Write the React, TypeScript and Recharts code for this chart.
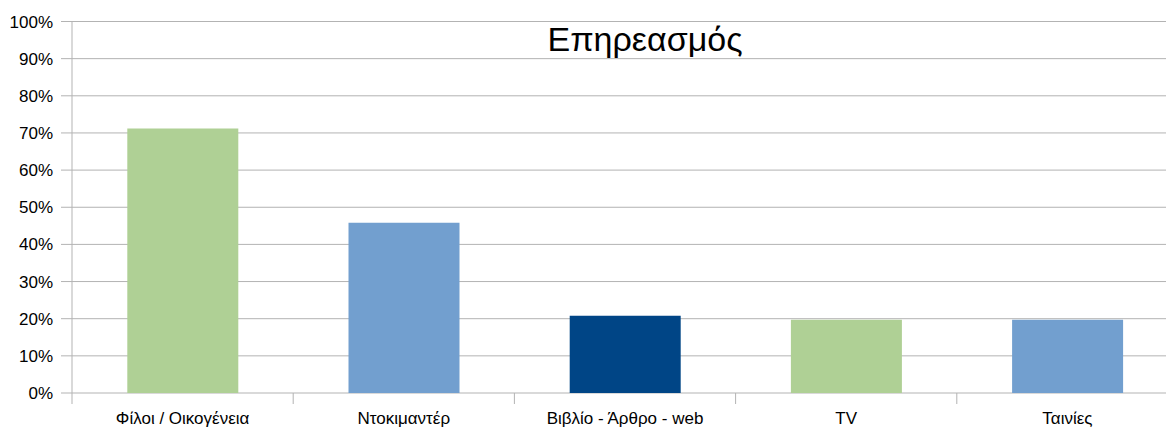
import { BarChart, Bar, XAxis, YAxis, CartesianGrid, Cell } from "recharts";

const categories = ["Φίλοι / Οικογένεια", "Ντοκιμαντέρ", "Βιβλίο - Άρθρο - web", "TV", "Ταινίες"];
const shares = [0.712, 0.458, 0.208, 0.197, 0.197];
const barColors = ["#afd095", "#729fcf", "#004586", "#afd095", "#729fcf"];
const yTicks = [0, 0.1, 0.2, 0.3, 0.4, 0.5, 0.6, 0.7, 0.8, 0.9, 1];

const data = categories.map((name, i) => ({ name, value: shares[i] }));

const GRID = "#b3b3b3";
const FONT = "'Liberation Sans', Arial, sans-serif";

// category label plus a divider tick on the left edge of each band
function CategoryTick(props: any) {
  const { x, y, payload, width, visibleTicksCount } = props;
  const band = width && visibleTicksCount ? width / visibleTicksCount : 221.2;
  const lx = x - band / 2;
  return (
    <g>
      <line x1={lx} x2={lx} y1={y - 19} y2={y - 8} stroke={GRID} />
      {payload.index === visibleTicksCount - 1 && (
        <line x1={lx + band} x2={lx + band} y1={y - 19} y2={y - 8} stroke={GRID} />
      )}
      <text x={x} y={y} dy="0.71em" textAnchor="middle" fill="#000" fontSize={17} fontFamily={FONT}>
        {payload.value}
      </text>
    </g>
  );
}

export default function App() {
  return (
    <div style={{ position: "fixed", left: 0, top: 0, width: 1166, height: 429, overflow: "hidden", background: "#fff" }}>
      <BarChart
        width={1190}
        height={429}
        data={data}
        margin={{ top: 21.5, right: 12, left: 0, bottom: 0 }}
        barCategoryGap="25%"
      >
        <CartesianGrid vertical={false} stroke={GRID} />
        <XAxis
          dataKey="name"
          height={36}
          tickSize={11}
          tickMargin={8}
          tickLine={false}
          axisLine={false}
          interval={0}
          tick={<CategoryTick />}
        />
        <YAxis
          width={72}
          domain={[0, 1]}
          ticks={yTicks}
          interval={0}
          tickSize={11}
          tickMargin={8}
          tickFormatter={(v: number) => `${Math.round(v * 100)}%`}
          tick={{ fill: "#000", fontSize: 17, fontFamily: FONT }}
          tickLine={{ stroke: GRID }}
          axisLine={{ stroke: GRID }}
        />
        <Bar dataKey="value" isAnimationActive={false}>
          {data.map((d, i) => (
            <Cell key={d.name} fill={barColors[i]} />
          ))}
        </Bar>
        <text x={645} y={42} textAnchor="middle" dominantBaseline="middle" fontSize={34} fontFamily={FONT} fill="#000">
          Επηρεασμός
        </text>
      </BarChart>
    </div>
  );
}
